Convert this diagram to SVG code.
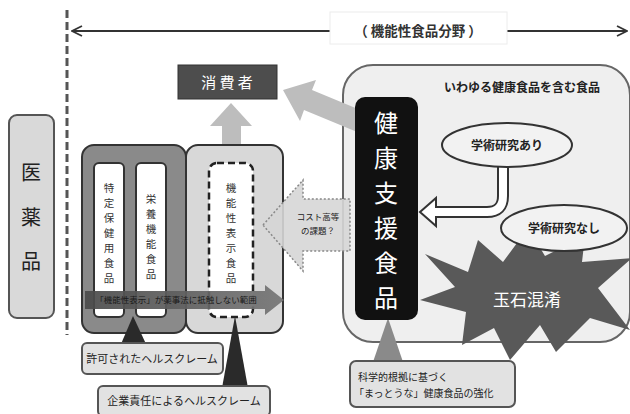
<svg xmlns="http://www.w3.org/2000/svg" width="630" height="414" viewBox="0 0 630 414">
<defs>
<style>
text{font-family:"Noto Sans CJK JP","Noto Sans",sans-serif;}
.dk{fill:#222;}
.wh{fill:#fff;}
.callout{fill:#e2e2e2;stroke:#555;stroke-width:2;}
.vt{font-size:10.5px;fill:#333;text-anchor:middle;}
.big{font-size:24px;fill:#fff;text-anchor:middle;}
.lgray{fill:#bdbdbd;}
</style>
<marker id="open" viewBox="0 0 12 12" refX="11" refY="6" markerWidth="12" markerHeight="12" markerUnits="userSpaceOnUse" orient="auto-start-reverse">
<path d="M1,1 L11,6 L1,11" fill="none" stroke="#333" stroke-width="1.8"/>
</marker>
<linearGradient id="hg" x1="0" y1="0" x2="1" y2="0">
<stop offset="0" stop-color="#4a4a4a"/>
<stop offset="1" stop-color="#767676"/>
</linearGradient>
</defs>
<rect width="630" height="414" fill="#fff"/>

<g id="connectors">
<line x1="67" y1="10" x2="67" y2="335" stroke="#555" stroke-width="3" stroke-dasharray="8 4"/>
<line x1="72" y1="31" x2="627" y2="31" stroke="#333" stroke-width="2" marker-start="url(#open)" marker-end="url(#open)"/>
</g>

<g id="label-field">
<rect x="330" y="12" width="177" height="32" fill="#fff" stroke="#ececec"/>
<text x="418" y="36" font-size="13.5" font-weight="bold" text-anchor="middle" fill="#333">（ 機能性食品分野 ）</text>
</g>

<g id="iyakuhin">
<rect x="9" y="115" width="45" height="203" rx="8" fill="#d9d9d9" stroke="#555" stroke-width="2"/>
<text x="31" y="180" font-size="20" text-anchor="middle" class="dk">医</text>
<text x="31" y="225" font-size="20" text-anchor="middle" class="dk">薬</text>
<text x="31" y="269" font-size="20" text-anchor="middle" class="dk">品</text>
</g>

<g id="shohisha">
<rect x="178" y="65" width="99" height="34" fill="#4d4d4d" stroke="#333"/>
<text x="227" y="88" font-size="15" text-anchor="middle" class="wh">消 費 者</text>
</g>

<g id="arrow-up">
<polygon class="lgray" points="231,103 252,126 241,126 241,146 222,146 222,126 210,126"/>
</g>

<g id="left-container">
<rect x="82" y="145" width="104" height="188" rx="12" fill="#8a8a8a" stroke="#333" stroke-width="2"/>
<rect x="186" y="145" width="97" height="188" rx="12" fill="#d8d8d8" stroke="#333" stroke-width="2"/>
</g>

<g id="tokutei">
<rect x="94" y="163" width="30" height="154" rx="5" fill="#fff" stroke="#333" stroke-width="2"/>
<text class="vt" x="109" y="192">特</text><text class="vt" x="109" y="207">定</text><text class="vt" x="109" y="222">保</text><text class="vt" x="109" y="237">健</text><text class="vt" x="109" y="252">用</text><text class="vt" x="109" y="267">食</text><text class="vt" x="109" y="282">品</text>
</g>

<g id="eiyou">
<rect x="136" y="163" width="30" height="154" rx="5" fill="#fff" stroke="#333" stroke-width="2"/>
<text class="vt" x="151" y="203">栄</text><text class="vt" x="151" y="218">養</text><text class="vt" x="151" y="233">機</text><text class="vt" x="151" y="248">能</text><text class="vt" x="151" y="263">食</text><text class="vt" x="151" y="278">品</text>
</g>

<g id="kinousei">
<rect x="209" y="163" width="44" height="154" rx="8" fill="#fff" stroke="#222" stroke-width="2.5" stroke-dasharray="7 4"/>
<text class="vt" x="231" y="192">機</text><text class="vt" x="231" y="207">能</text><text class="vt" x="231" y="222">性</text><text class="vt" x="231" y="237">表</text><text class="vt" x="231" y="252">示</text><text class="vt" x="231" y="267">食</text><text class="vt" x="231" y="282">品</text>
</g>

<g id="hani-arrow">
<polygon points="85,291 265,291 265,285 284,300 265,315 265,309 85,309" fill="url(#hg)" opacity="0.92"/>
<text x="176" y="303" font-size="8.5" text-anchor="middle" fill="#1a1a1a">「機能性表示」が薬事法に抵触しない範囲</text>
</g>

<g id="right-container">
<rect x="343" y="65" width="287" height="277" rx="30" fill="#efefef" stroke="#666" stroke-width="2"/>
<text x="522" y="92" font-size="12" font-weight="bold" text-anchor="middle" class="dk">いわゆる健康食品を含む食品</text>
</g>

<g id="arrow-diag">
<polygon class="lgray" points="283,90 316,80 312,90 370,114 362,134 304,110 300,121"/>
</g>

<g id="cost-arrow">
<polygon points="263,225 303,180 303,199 350,199 350,251 303,251 303,271" fill="#d6d6d6" fill-opacity="0.9" stroke="#888" stroke-width="1.5" stroke-dasharray="2 2"/>
<text x="318" y="220" font-size="8.5" text-anchor="middle" class="dk">コスト高等</text>
<text x="318" y="234" font-size="8.5" text-anchor="middle" class="dk">の課題？</text>
</g>

<g id="gyokuseki">
<polygon points="425,254 468,272 478,240 503,262 528,228 545,256 585,236 582,262 632,258 598,288 630,330 590,318 556,352 540,325 510,360 494,328 462,345 466,312 420,300 455,287" fill="#595959"/>
<text x="527" y="306" font-size="17" text-anchor="middle" class="wh">玉石混淆</text>
</g>

<g id="kagaku-pointer">
<polygon points="373,362 403,362 388,318" fill="#8a8a8a"/>
</g>

<g id="kenkou-shien">
<rect x="355" y="97" width="63" height="223" rx="10" fill="#111"/>
<text class="big" x="386" y="132">健</text>
<text class="big" x="386" y="167">康</text>
<text class="big" x="386" y="202">支</text>
<text class="big" x="386" y="237">援</text>
<text class="big" x="386" y="272">食</text>
<text class="big" x="386" y="307">品</text>
</g>

<g id="elbow-arrow">
<path d="M503,158 V196 Q503,212 487,212 H437" fill="none" stroke="#333" stroke-width="12"/>
<polygon points="420,212 436,198 436,226" fill="#fff" stroke="#333" stroke-width="2"/>
<path d="M503,158 V196 Q503,212 487,212 H432" fill="none" stroke="#fff" stroke-width="8"/>
</g>

<g id="gakujutsu-ari">
<ellipse cx="507" cy="145" rx="65" ry="22" fill="#f2f2f2" stroke="#333" stroke-width="2"/>
<text x="507" y="150" font-size="12" font-weight="bold" text-anchor="middle" class="dk">学術研究あり</text>
</g>

<g id="gakujutsu-nashi">
<ellipse cx="564" cy="228" rx="63" ry="23" fill="#f2f2f2" stroke="#333" stroke-width="2"/>
<text x="564" y="233" font-size="12" font-weight="bold" text-anchor="middle" class="dk">学術研究なし</text>
</g>

<g id="kagaku-callout">
<rect class="callout" x="350" y="361" width="165" height="46" rx="6"/>
<text x="358" y="381" font-size="10" class="dk">科学的根拠に基づく</text>
<text x="354" y="397" font-size="10" class="dk">「まっとうな」健康食品の強化</text>
</g>

<g id="pointers-left">
<polygon points="121,344 146,344 133,316" fill="#2a2a2a"/>
<polygon points="222,388 248,388 235,316" fill="#2a2a2a"/>
</g>

<g id="kyoka-callout">
<rect class="callout" x="82" y="343" width="141" height="31" rx="5"/>
<text x="152" y="363" font-size="11" text-anchor="middle" class="dk">許可されたヘルスクレーム</text>
</g>

<g id="kigyou-callout">
<rect class="callout" x="98" y="386" width="172" height="30" rx="5"/>
<text x="184" y="405" font-size="11" text-anchor="middle" class="dk">企業責任によるヘルスクレーム</text>
</g>
</svg>
